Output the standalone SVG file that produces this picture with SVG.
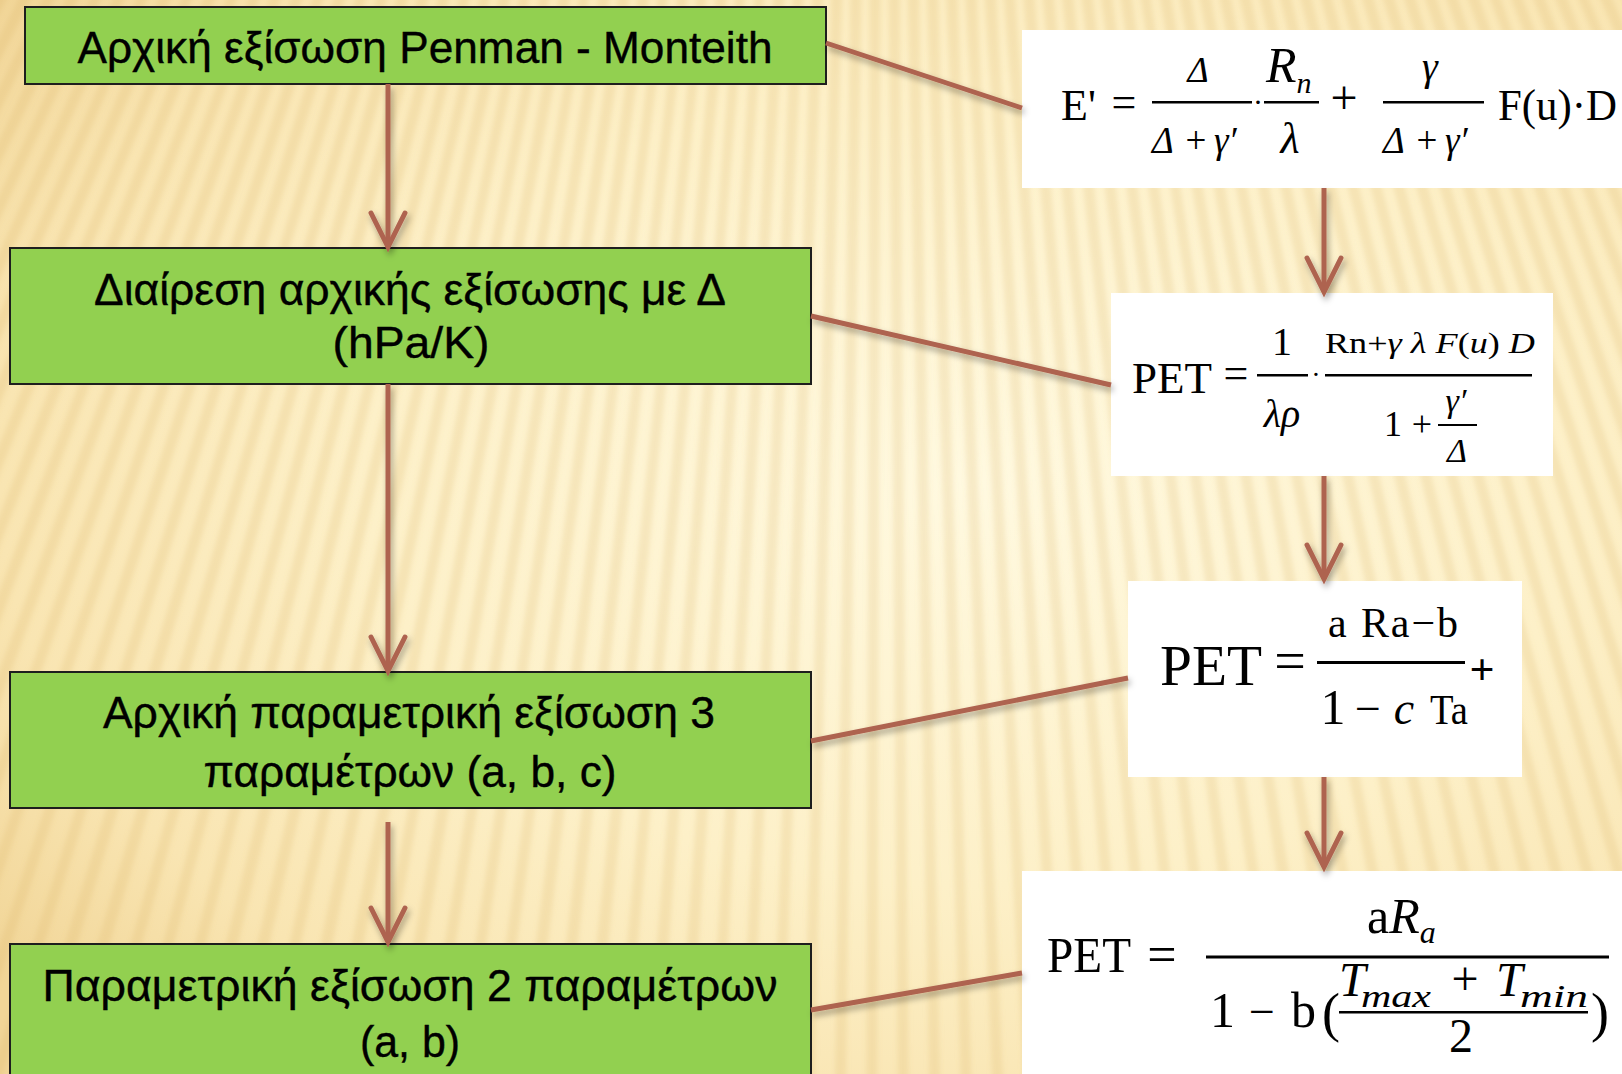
<svg xmlns="http://www.w3.org/2000/svg" width="1622" height="1074" viewBox="0 0 1622 1074">
  <defs>
    <radialGradient id="bgGlow" cx="0.6" cy="0.45" r="0.75">
      <stop offset="0" stop-color="#FFF9E0"/>
      <stop offset="0.5" stop-color="#FDF0C8"/>
      <stop offset="0.8" stop-color="#F9E5B2"/>
      <stop offset="1" stop-color="#F1D597"/>
    </radialGradient>
    <filter id="soft" filterUnits="userSpaceOnUse" x="0" y="0" width="1622" height="1074">
      <feGaussianBlur stdDeviation="2.5"/>
    </filter>
    <filter id="lineShadow" x="-20%" y="-20%" width="140%" height="140%">
      <feDropShadow dx="2" dy="4" stdDeviation="3" flood-color="#000" flood-opacity="0.35"/>
    </filter>
    <marker id="chevron" markerUnits="userSpaceOnUse" viewBox="0 0 40 40" refX="36" refY="20" markerWidth="40" markerHeight="40" orient="auto" overflow="visible">
      <path d="M2,3 L36,20 L2,37" fill="none" stroke="#AE6350" stroke-width="5" stroke-linejoin="miter" stroke-linecap="round"/>
    </marker>
    <style>
      .box { fill: #92D050; stroke: #1E1E1E; stroke-width: 2; }
      .box-text { font-family: "Liberation Sans Narrow", "Liberation Sans", Arial, sans-serif; font-size: 45px; fill: #000; text-anchor: middle; stroke: #000; stroke-width: 0.4; }
      .panel { fill: #FFFFFF; }
      .m { font-family: "Liberation Serif", "Times New Roman", serif; fill: #000; }
      .i { font-style: italic; }
      .mid { text-anchor: middle; }
      .bar { fill: #000; }
      .link { stroke: #AE6350; stroke-width: 5; fill: none; stroke-linecap: butt; }
    </style>
  </defs>

  <!-- backdrop: warm glow with fanned ribs -->
  <rect width="1622" height="1074" fill="url(#bgGlow)"/>
  <g filter="url(#soft)">
    <circle cx="880" cy="-1700" r="2300" fill="none" stroke="#D9B066" stroke-opacity="0.2" stroke-width="1300" stroke-dasharray="11 15"/>
  </g>

  <!-- left column: process steps -->
  <g id="step-penman">
    <rect class="box" x="25" y="7" width="801" height="77"/>
    <text class="box-text" x="425" y="63" textLength="695" lengthAdjust="spacingAndGlyphs">Αρχική εξίσωση Penman - Monteith</text>
  </g>
  <g id="step-divide">
    <rect class="box" x="10" y="248" width="801" height="136"/>
    <text class="box-text" x="410" y="305" textLength="632" lengthAdjust="spacingAndGlyphs">Διαίρεση αρχικής εξίσωσης με Δ</text>
    <text class="box-text" x="411" y="358" textLength="157" lengthAdjust="spacingAndGlyphs">(hPa/K)</text>
  </g>
  <g id="step-three-params">
    <rect class="box" x="10" y="672" width="801" height="136"/>
    <text class="box-text" x="409" y="728" textLength="612" lengthAdjust="spacingAndGlyphs">Αρχική παραμετρική εξίσωση 3</text>
    <text class="box-text" x="410" y="787" textLength="413" lengthAdjust="spacingAndGlyphs">παραμέτρων (a, b, c)</text>
  </g>
  <g id="step-two-params">
    <rect class="box" x="10" y="944" width="801" height="140"/>
    <text class="box-text" x="410" y="1001" textLength="735" lengthAdjust="spacingAndGlyphs">Παραμετρική εξίσωση 2 παραμέτρων</text>
    <text class="box-text" x="410" y="1057" textLength="100" lengthAdjust="spacingAndGlyphs">(a, b)</text>
  </g>

  <!-- right column: equations -->
  <g id="eq-penman">
    <rect class="panel" x="1022" y="30" width="600" height="158"/>
    <text class="m" x="1061" y="120" font-size="44">E'</text>
    <text class="m mid" x="1124" y="117" font-size="44">=</text>
    <rect class="bar" x="1152" y="101" width="100" height="2.5"/>
    <text class="m i mid" x="1198" y="82" font-size="36">Δ</text>
    <text class="m i" y="153" font-size="37"><tspan x="1152">Δ</tspan><tspan class="mid" x="1196" font-style="normal">+</tspan><tspan x="1214">γ′</tspan></text>
    <text class="m mid" x="1258" y="112" font-size="30">·</text>
    <rect class="bar" x="1264" y="101" width="55" height="2.5"/>
    <text class="m i" x="1266" y="82" font-size="50">R<tspan font-size="30" dy="11">n</tspan></text>
    <text class="m i mid" x="1290" y="153" font-size="44">λ</text>
    <text class="m mid" x="1344" y="114" font-size="48">+</text>
    <rect class="bar" x="1383" y="101" width="101" height="2.5"/>
    <text class="m i mid" x="1430" y="80" font-size="40">γ</text>
    <text class="m i" y="153" font-size="37"><tspan x="1383">Δ</tspan><tspan class="mid" x="1427" font-style="normal">+</tspan><tspan x="1445">γ′</tspan></text>
    <text class="m" x="1498" y="120" font-size="44" textLength="119" lengthAdjust="spacingAndGlyphs">F(u)·D</text>
  </g>

  <g id="eq-divided">
    <rect class="panel" x="1111" y="293" width="442" height="183"/>
    <text class="m" x="1132" y="393" font-size="45" textLength="80" lengthAdjust="spacingAndGlyphs">PET</text>
    <text class="m mid" x="1236" y="388" font-size="44">=</text>
    <rect class="bar" x="1257" y="374" width="51" height="2.5"/>
    <text class="m mid" x="1282" y="355" font-size="40">1</text>
    <text class="m i mid" x="1282" y="427" font-size="40">λρ</text>
    <text class="m mid" x="1316" y="384" font-size="28">·</text>
    <rect class="bar" x="1325" y="374" width="207" height="2.5"/>
    <text class="m" x="1325" y="353" font-size="30" textLength="210" lengthAdjust="spacingAndGlyphs">Rn+<tspan font-style="italic">γ λ F</tspan>(<tspan font-style="italic">u</tspan>) <tspan font-style="italic">D</tspan></text>
    <text class="m mid" x="1393" y="436" font-size="36">1</text>
    <text class="m mid" x="1422" y="436" font-size="36">+</text>
    <rect class="bar" x="1438" y="424" width="39" height="2"/>
    <text class="m i mid" x="1456" y="412" font-size="34">γ′</text>
    <text class="m i mid" x="1457" y="462" font-size="34">Δ</text>
  </g>

  <g id="eq-three-params">
    <rect class="panel" x="1128" y="581" width="394" height="196"/>
    <text class="m" x="1160" y="685" font-size="56" textLength="102" lengthAdjust="spacingAndGlyphs">PET</text>
    <text class="m mid" x="1290" y="680" font-size="56">=</text>
    <rect class="bar" x="1317" y="661" width="148" height="3"/>
    <text class="m mid" x="1482" y="684" font-size="44" font-weight="bold">+</text>
    <text class="m" x="1328" y="637" font-size="42" textLength="130" lengthAdjust="spacing">a Ra−b</text>
    <text class="m mid" x="1333" y="724" font-size="50">1</text>
    <text class="m mid" x="1368" y="724" font-size="46">−</text>
    <text class="m i mid" x="1404" y="724" font-size="46">c</text>
    <text class="m" x="1430" y="724" font-size="42" textLength="38" lengthAdjust="spacingAndGlyphs">Ta</text>
  </g>

  <g id="eq-two-params">
    <rect class="panel" x="1022" y="871" width="600" height="203"/>
    <text class="m" x="1047" y="972" font-size="50" textLength="84" lengthAdjust="spacingAndGlyphs">PET</text>
    <text class="m mid" x="1162" y="972" font-size="52">=</text>
    <rect class="bar" x="1206" y="955.5" width="403" height="3"/>
    <text class="m" x="1367" y="933" font-size="50">a<tspan font-style="italic">R</tspan><tspan font-style="italic" font-size="32" dy="10">a</tspan></text>
    <text class="m" x="1210" y="1027" font-size="50">1</text>
    <text class="m mid" x="1262" y="1027" font-size="46">−</text>
    <text class="m" x="1291" y="1027" font-size="50">b</text>
    <text class="m" x="1322" y="1031" font-size="54">(</text>
    <rect class="bar" x="1339" y="1011" width="249" height="2.5"/>
    <text class="m i" x="1339" y="996" font-size="48">T</text>
    <text class="m i" x="1361" y="1007" font-size="32" textLength="70" lengthAdjust="spacingAndGlyphs">max</text>
    <text class="m mid" x="1465" y="995" font-size="48">+</text>
    <text class="m i" x="1496" y="996" font-size="48">T</text>
    <text class="m i" x="1520" y="1007" font-size="32" textLength="68" lengthAdjust="spacingAndGlyphs">min</text>
    <text class="m mid" x="1461" y="1052" font-size="48">2</text>
    <text class="m" x="1591" y="1031" font-size="54">)</text>
  </g>

  <!-- connectors -->
  <g id="connectors" filter="url(#lineShadow)">
    <line class="link" x1="388" y1="84" x2="388" y2="247" marker-end="url(#chevron)"/>
    <line class="link" x1="388" y1="384" x2="388" y2="671" marker-end="url(#chevron)"/>
    <line class="link" x1="388" y1="822" x2="388" y2="942" marker-end="url(#chevron)"/>
    <line class="link" x1="1324" y1="188" x2="1324" y2="292" marker-end="url(#chevron)"/>
    <line class="link" x1="1324" y1="476" x2="1324" y2="579" marker-end="url(#chevron)"/>
    <line class="link" x1="1324" y1="777" x2="1324" y2="867" marker-end="url(#chevron)"/>
    <line class="link" x1="826" y1="43" x2="1022" y2="108"/>
    <line class="link" x1="811" y1="316" x2="1111" y2="385"/>
    <line class="link" x1="811" y1="741" x2="1128" y2="678"/>
    <line class="link" x1="811" y1="1010" x2="1022" y2="973"/>
  </g>
</svg>
